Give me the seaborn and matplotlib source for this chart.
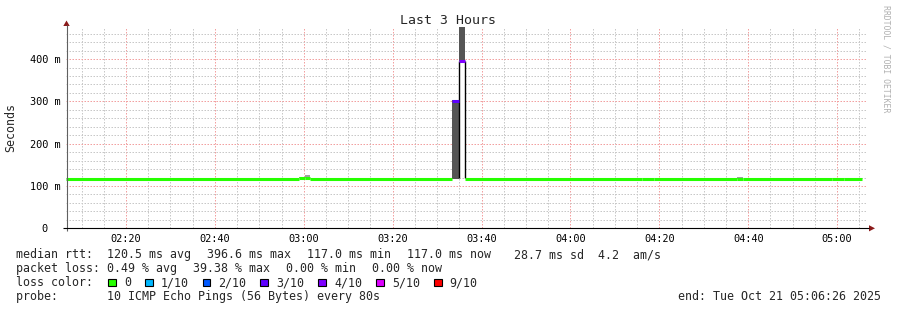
import numpy as np
import pandas as pd
import matplotlib
matplotlib.use("Agg")
import matplotlib.pyplot as plt
import matplotlib.dates as mdates
from matplotlib.patches import Rectangle, Polygon
from matplotlib.lines import Line2D
from matplotlib.ticker import MultipleLocator
import seaborn as sns

# ---------------- data ----------------
day = "2025-10-21 "
range_start = "02:06:26"
range_end = "05:06:26"

# piecewise-constant segments (start times; last entry is end of data)
seg_times = ["02:06:26", "02:58:55", "03:00:16", "03:01:24", "03:33:21", "03:34:55",
             "03:36:22", "04:16:01", "04:18:47", "04:37:27", "04:38:48", "04:58:49",
             "05:01:31", "05:05:34"]
seg_median_ms = [116.5, 118.5, 118.5, 116.5, 300.0, 396.6, 116.5, 115.5, 116.5,
                 117.0, 116.5, 115.5, 116.5]
seg_loss = ["0", "0", "0", "0", "3/10", "4/10", "0", "0", "0", "0", "0", "0", "0"]
smoke_lo_ms = [np.nan, 118.5, 118.5, np.nan, 117.0, 396.6, np.nan, np.nan, np.nan,
               117.0, np.nan, np.nan, np.nan]
smoke_hi_ms = [np.nan, 121.0, 125.0, np.nan, 303.0, 480.0, np.nan, np.nan, np.nan,
               121.0, np.nan, np.nan, np.nan]
gap_lo_ms = [np.nan] * 5 + [118.0] + [np.nan] * 7
gap_hi_ms = [np.nan] * 5 + [396.6] + [np.nan] * 7

loss_labels = ["0", "1/10", "2/10", "3/10", "4/10", "5/10", "9/10"]
loss_colors = ["#26ff00", "#00b8ff", "#0059ff", "#5e00ff", "#7e00ff", "#dd00ff", "#ff0000"]

y_ticks_ms = [0, 100, 200, 300, 400]
y_tick_labels = ["0  ", "100 m", "200 m", "300 m", "400 m"]

title = "Last 3 Hours"
ylabel = "Seconds"
rtt_items = ["median rtt:", "120.5 ms avg", "396.6 ms max", "117.0 ms min", "117.0 ms now",
             " 28.7 ms sd  4.2  am/s"]
loss_items = ["packet loss:", "0.49 % avg", "39.38 % max", "0.00 % min", "0.00 % now"]
color_title = "loss color:"
probe_line = "probe:       10 ICMP Echo Pings (56 Bytes) every 80s"
end_line = "end: Tue Oct 21 05:06:26 2025"
watermark = "RRDTOOL / TOBI OETIKER"

# ---------------- figure ----------------
sns.set_style("white")
plt.rcParams["font.family"] = ["DejaVu Sans Mono", "DejaVu Sans"]
plt.rcParams["lines.solid_capstyle"] = "butt"
MONO = "DejaVu Sans Mono"

W, H = 897, 310
fig = plt.figure(figsize=(W / 100, H / 100), dpi=100)
fig.patch.set_facecolor("white")


def fx(x):
    return x / W


def fy(y):
    return 1 - y / H


ax_left, ax_right, ax_bottom, ax_top = 65.7, 865.7, 228.3, 26.7
ax = fig.add_axes([fx(ax_left), fy(ax_bottom), (ax_right - ax_left) / W, (ax_bottom - ax_top) / H])
ax.set_facecolor("white")

t = pd.to_datetime([day + s for s in seg_times])
t0 = pd.Timestamp(day + range_start)
t1 = pd.Timestamp(day + range_end)
ymax = (ax_bottom - ax_top) / 0.423

# smoke
lo = np.array(smoke_lo_ms)
hi = np.array(smoke_hi_ms)
for i in range(len(seg_median_ms)):
    if not np.isnan(lo[i]):
        shade = "#555555" if hi[i] - lo[i] > 20 else "#a0a0a0"
        ax.fill_between([t[i], t[i + 1]], lo[i], hi[i], color=shade, lw=0, zorder=3)
    if not np.isnan(gap_lo_ms[i]):
        ax.fill_between([t[i], t[i + 1]], gap_lo_ms[i], gap_hi_ms[i], color="white", lw=0, zorder=3)
        ax.vlines([t[i], t[i + 1]], gap_lo_ms[i], gap_hi_ms[i], color="black", lw=1.0, zorder=4)

# median line per segment via seaborn
rows = []
for i in range(len(seg_median_ms)):
    rows.append(dict(time=t[i], rtt=seg_median_ms[i], seg=i, loss=seg_loss[i]))
    rows.append(dict(time=t[i + 1], rtt=seg_median_ms[i], seg=i, loss=seg_loss[i]))
df = pd.DataFrame(rows)
pal = dict(zip(loss_labels, loss_colors))
sns.lineplot(data=df, x="time", y="rtt", hue="loss", units="seg", estimator=None,
             palette=pal, legend=False, lw=2.2, ax=ax, zorder=5, sort=False)

ax.set_xlim(t0, t1)
ax.set_ylim(0, ymax)
ax.set_xlabel("")
ax.set_ylabel("")

ax.xaxis.set_major_locator(mdates.MinuteLocator(byminute=[0, 20, 40]))
ax.xaxis.set_minor_locator(mdates.MinuteLocator(byminute=list(range(0, 60, 5))))
ax.xaxis.set_major_formatter(mdates.DateFormatter("%H:%M"))
ax.set_yticks(y_ticks_ms)
ax.set_yticklabels(y_tick_labels)
ax.yaxis.set_minor_locator(MultipleLocator(20))

ax.grid(which="minor", color="#c8c8c8", ls=(0, (1.5, 1.5)), lw=0.72)
ax.grid(which="major", color="#f2a0a0", ls=(0, (1.5, 1.5)), lw=0.72)
ax.set_axisbelow(True)
for s in ax.spines.values():
    s.set_visible(False)
ax.tick_params(which="both", length=0)
ax.tick_params(axis="x", pad=4.2, labelsize=7.4, labelcolor="black")
ax.tick_params(axis="y", pad=3.6, labelsize=7.4, labelcolor="black")
for lab in ax.get_xticklabels() + ax.get_yticklabels():
    lab.set_family(MONO)

# axes lines and arrows
fig.add_artist(Line2D([fx(66.5), fx(66.5)], [fy(230.8), fy(25)], color="#606060", lw=0.8))
fig.add_artist(Line2D([fx(63), fx(869)], [fy(228.3), fy(228.3)], color="black", lw=0.8))
fig.add_artist(Polygon([[fx(66.5), fy(20.5)], [fx(63.3), fy(26)], [fx(69.7), fy(26)]],
                       closed=True, color="#8b1a1a", lw=0))
fig.add_artist(Polygon([[fx(875), fy(228.3)], [fx(869), fy(225.2)], [fx(869), fy(231.4)]],
                       closed=True, color="#8b1a1a", lw=0))

# texts
fig.text(fx(447.5), fy(20), title, family=MONO, size=9.5, ha="center", va="center")
fig.text(fx(11), fy(127.5), ylabel, family=MONO, size=8.4, rotation=90, ha="center", va="center")
fig.text(fx(886), fy(59), watermark, family=MONO, size=5.9, rotation=270, color="#b0b0b0",
         ha="center", va="center")

FS = 8.37
CW = 7.0
GAP = 16.0


def item_row(items, y, x0=16.0, first_w=91.3):
    x = x0
    for k, s in enumerate(items):
        fig.text(fx(x), fy(y), s, family=MONO, size=FS, ha="left", va="center")
        x = x + first_w if k == 0 else x + len(s) * CW + GAP


item_row(rtt_items, 254.5)
item_row(loss_items, 268.5)
fig.text(fx(16), fy(282.5), color_title, family=MONO, size=FS, ha="left", va="center")
fig.text(fx(16), fy(296.5), probe_line, family=MONO, size=FS, ha="left", va="center")
fig.text(fx(881), fy(296.5), end_line, family=MONO, size=FS, ha="right", va="center")

# loss colour legend boxes
bx = 108.0
for lab, col in zip(loss_labels, loss_colors):
    fig.add_artist(Rectangle((fx(bx), fy(286.3)), 7.8 / W, 7.8 / H, transform=fig.transFigure,
                             facecolor=col, edgecolor="black", lw=0.8))
    tx = bx + 15.8
    fig.text(fx(tx), fy(282.5), lab, family=MONO, size=FS, ha="left", va="center")
    bx = tx + len(lab) * CW + 14.0

fig.savefig("out.png", dpi=100, facecolor="white")
